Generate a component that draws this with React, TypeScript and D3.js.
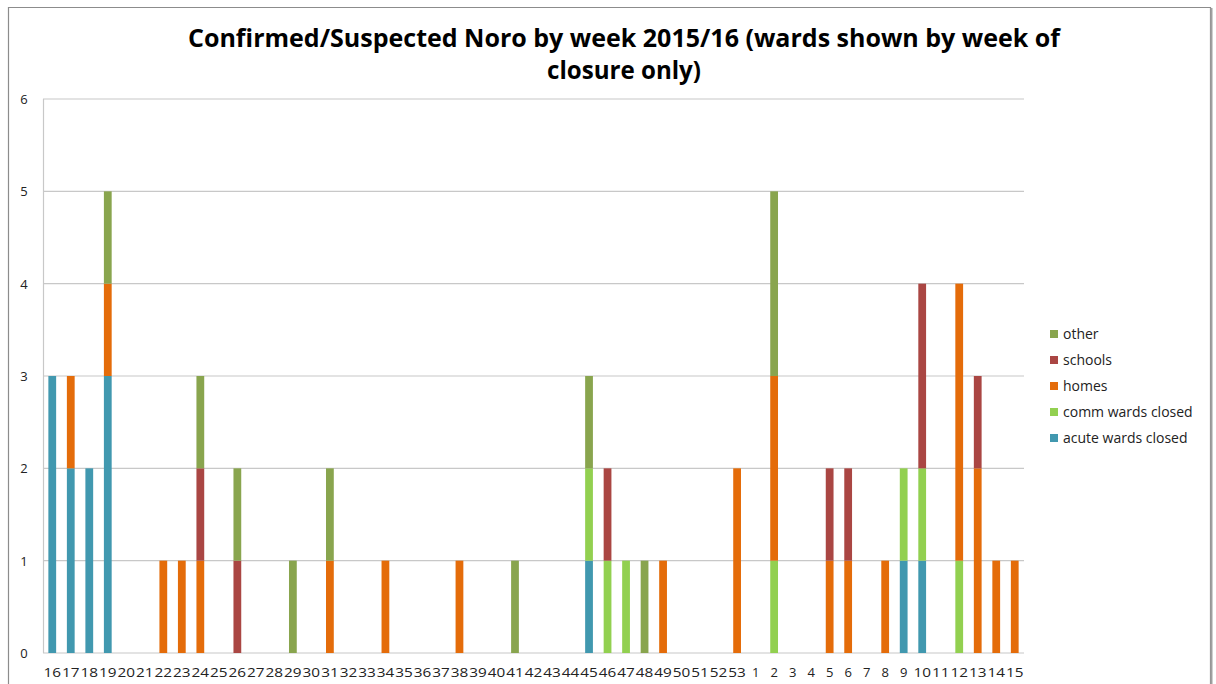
import React from "react";
import * as d3 from "d3";

const weeks: string[] = [
  "16","17","18","19","20","21","22","23","24","25","26","27","28","29","30","31","32","33","34","35","36","37","38","39","40","41","42","43","44","45","46","47","48","49","50","51","52","53",
  "1","2","3","4","5","6","7","8","9","10","11","12","13","14","15",
];

const acuteWards: number[] = [3,2,2,3,0,0,0,0,0,0,0,0,0,0,0,0,0,0,0,0,0,0,0,0,0,0,0,0,0,1,0,0,0,0,0,0,0,0, 0,0,0,0,0,0,0,0,1,1,0,0,0,0,0];
const commWards: number[] = [0,0,0,0,0,0,0,0,0,0,0,0,0,0,0,0,0,0,0,0,0,0,0,0,0,0,0,0,0,1,1,1,0,0,0,0,0,0, 0,1,0,0,0,0,0,0,1,1,0,1,0,0,0];
const homes: number[] = [0,1,0,1,0,0,1,1,1,0,0,0,0,0,0,1,0,0,1,0,0,0,1,0,0,0,0,0,0,0,0,0,0,1,0,0,0,2, 0,2,0,0,1,1,0,1,0,0,0,3,2,1,1];
const schools: number[] = [0,0,0,0,0,0,0,0,1,0,1,0,0,0,0,0,0,0,0,0,0,0,0,0,0,0,0,0,0,0,1,0,0,0,0,0,0,0, 0,0,0,0,1,1,0,0,0,2,0,0,1,0,0];
const other: number[] = [0,0,0,1,0,0,0,0,1,0,1,0,0,1,0,1,0,0,0,0,0,0,0,0,0,1,0,0,0,1,0,0,1,0,0,0,0,0, 0,2,0,0,0,0,0,0,0,0,0,0,0,0,0];

const seriesNames = ["acute wards closed", "comm wards closed", "homes", "schools", "other"];
const seriesColors = ["#4198AF", "#92D050", "#E46C0A", "#AA4643", "#89A54E"];
const yTicks = [0, 1, 2, 3, 4, 5, 6];

export default function App() {
  const W = 1216, H = 684;
  const left = 43, right = 1024, top = 99, bottom = 653;
  const x = d3.scaleBand<string>().domain(weeks).range([left, right]).paddingInner(0.58).paddingOuter(0.29);
  const y = d3.scaleLinear().domain([0, 6]).range([bottom, top]);

  const rows = weeks.map((w, i) => ({
    week: w,
    "acute wards closed": acuteWards[i],
    "comm wards closed": commWards[i],
    homes: homes[i],
    schools: schools[i],
    other: other[i],
  }));
  const stacked = d3.stack<any>().keys(seriesNames)(rows);
  const step = (right - left) / weeks.length;
  const font = "Open Sans, 'DejaVu Sans', sans-serif";

  return (
    <svg width={W} height={H} style={{ position: "absolute", left: 0, top: 0 }} fontFamily={font}>
      <rect x={0} y={0} width={W} height={H} fill="#fff" />
      <path d={`M8.5,${H} V7.5 H1210.5 V${H}`} fill="none" stroke="#8c8c8c" strokeWidth={1.2} />
      <line x1={1211.5} y1={8} x2={1211.5} y2={H} stroke="#a0a0a0" strokeWidth={2} />
      <text x={624} y={47} textAnchor="middle" fontSize={25} fontWeight="bold" fill="#000"
        textLength={872} lengthAdjust="spacingAndGlyphs">
        Confirmed/Suspected Noro by week 2015/16 (wards shown by week of
      </text>
      <text x={624} y={79} textAnchor="middle" fontSize={25} fontWeight="bold" fill="#000"
        textLength={154} lengthAdjust="spacingAndGlyphs">
        closure only)
      </text>
      {yTicks.map((t) => (
        <g key={t}>
          <line x1={left} x2={right} y1={y(t)} y2={y(t)} stroke="#c8c8c8" strokeWidth={1.2} />
          <text x={24} y={y(t) + 5} textAnchor="middle" fontSize={13} fill="#222">{t}</text>
        </g>
      ))}
      <line x1={left + 0.5} x2={left + 0.5} y1={top} y2={bottom} stroke="#c8c8c8" strokeWidth={1.2} />
      {stacked.map((s, si) => (
        <g key={seriesNames[si]} fill={seriesColors[si]}>
          {s.map((d, i) => {
            const h = y(d[0]) - y(d[1]);
            if (h <= 0) return null;
            return <rect key={i} x={x(weeks[i])!} y={y(d[1])} width={x.bandwidth()} height={h} />;
          })}
        </g>
      ))}
      {weeks.map((w) => (
        <text key={w} x={x(w)! + x.bandwidth() / 2} y={677} textAnchor="middle" fontSize={13}
          fill="#222" textLength={w.length > 1 ? Math.min(step, 17.5) : undefined} lengthAdjust="spacingAndGlyphs">
          {w}
        </text>
      ))}
      {seriesNames.slice().reverse().map((n, i) => {
        const ci = seriesNames.length - 1 - i;
        const yy = 334 + i * 26;
        return (
          <g key={n}>
            <rect x={1050} y={yy - 4} width={8} height={8} fill={seriesColors[ci]} />
            <text x={1063} y={yy + 5} fontSize={14} fill="#222">{n}</text>
          </g>
        );
      })}
    </svg>
  );
}
